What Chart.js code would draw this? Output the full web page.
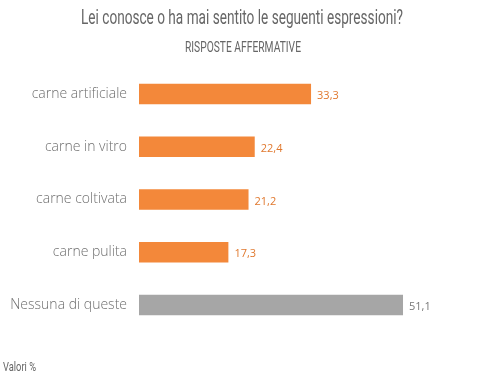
<!DOCTYPE html>
<html>
<head>
<meta charset="utf-8">
<script src="https://cdn.jsdelivr.net/npm/chart.js@4/dist/chart.umd.min.js"></script>
<style>
  html, body { margin: 0; padding: 0; background: #fff; }
  #box { width: 484px; height: 377px; }
</style>
</head>
<body>
<div id="box"><canvas id="grafico"></canvas></div>
<script>
// dati
const categorie = ['carne artificiale', 'carne in vitro', 'carne coltivata', 'carne pulita', 'Nessuna di queste'];
const valori = [33.3, 22.4, 21.2, 17.3, 51.1];
const coloriBarre = ['#f3883a', '#f3883a', '#f3883a', '#f3883a', '#a6a6a6'];
const coloriEtichette = ['#e0782e', '#e0782e', '#e0782e', '#e0782e', '#777777'];

const titolo = 'Lei conosce o ha mai sentito le seguenti espressioni?';
const sottotitolo = 'RISPOSTE AFFERMATIVE';
const nota = 'Valori %';

// testo "stretto": il font condensato non c'è, quindi lo comprimo in orizzontale
function testoStretto(ctx, testo, x, y, dimensione, larghezza, allinea) {
  ctx.save();
  ctx.font = '400 ' + dimensione + 'px Roboto, sans-serif';
  const w = ctx.measureText(testo).width;
  const k = larghezza / w;
  let x0 = x;
  if (allinea === 'center') x0 = x - larghezza / 2;
  ctx.translate(x0, y);
  ctx.scale(k, 1);
  ctx.textAlign = 'left';
  ctx.textBaseline = 'alphabetic';
  ctx.fillText(testo, 0, 0);
  ctx.restore();
}

const etichettePlugin = {
  id: 'etichette',
  afterDatasetsDraw(chart) {
    const ctx = chart.ctx;
    const meta = chart.getDatasetMeta(0);
    ctx.save();
    ctx.font = '500 11px "Open Sans", sans-serif';
    ctx.textBaseline = 'middle';
    ctx.textAlign = 'left';
    meta.data.forEach((barra, i) => {
      ctx.fillStyle = coloriEtichette[i];
      ctx.fillText(valori[i].toFixed(1).replace('.', ','), barra.x + 6, barra.y + 2);
    });
    ctx.fillStyle = '#666';
    testoStretto(ctx, titolo, 242, 23.5, 21, 322, 'center');
    testoStretto(ctx, sottotitolo, 243, 51.7, 14, 116, 'center');
    testoStretto(ctx, nota, 3, 371, 13, 33, 'left');
    ctx.restore();
  }
};

new Chart(document.getElementById('grafico'), {
  type: 'bar',
  data: {
    labels: categorie,
    datasets: [{
      data: valori,
      backgroundColor: coloriBarre,
      categoryPercentage: 1,
      barPercentage: 0.39
    }]
  },
  options: {
    indexAxis: 'y',
    responsive: true,
    maintainAspectRatio: false,
    animation: false,
    layout: { padding: { left: 0, right: 35, top: 67.6, bottom: 45.6 } },
    plugins: {
      legend: { display: false },
      tooltip: { enabled: false }
    },
    scales: {
      x: { display: false, min: 0, max: 60 },
      y: {
        grid: { display: false, drawTicks: false },
        border: { display: false },
        ticks: {
          color: '#6f6f6f',
          padding: 12,
          font: { family: '"Open Sans", sans-serif', size: 14, weight: 300 }
        },
        afterFit(scala) { scala.width = 139; }
      }
    }
  },
  plugins: [etichettePlugin]
});
</script>
</body>
</html>
